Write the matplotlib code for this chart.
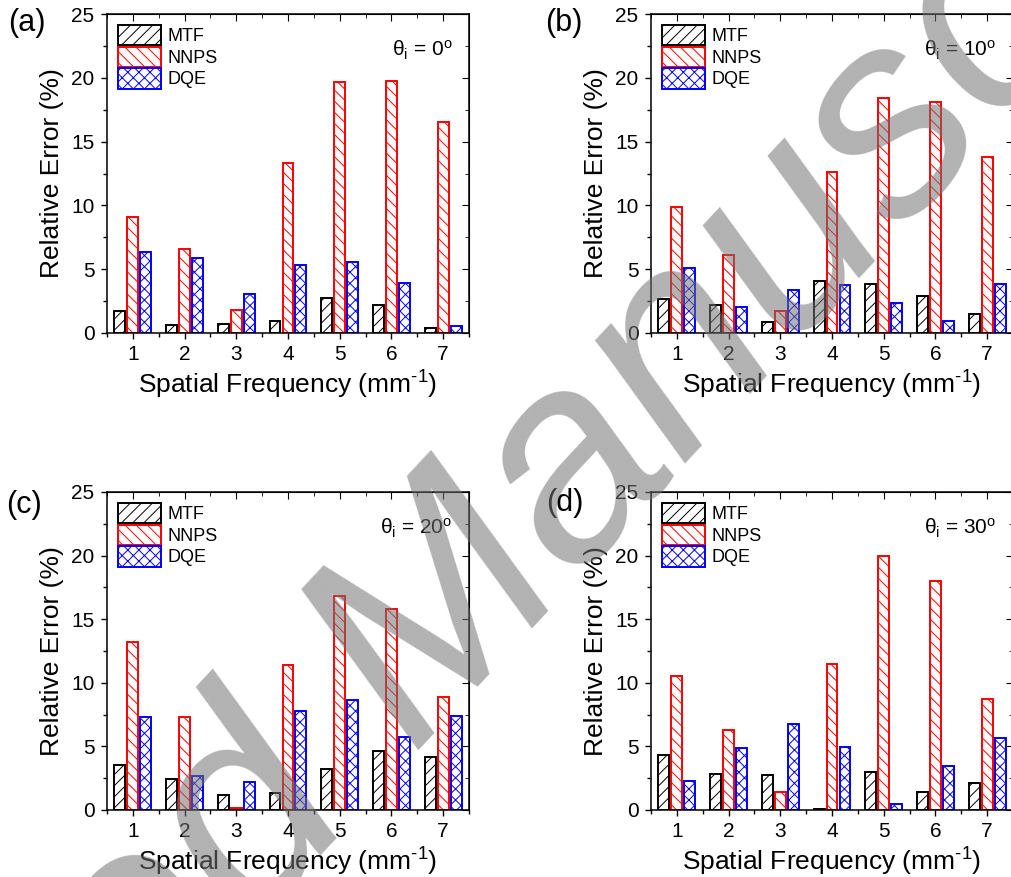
import matplotlib
matplotlib.use("Agg")
import matplotlib.pyplot as plt
import numpy as np

plt.rcParams["font.family"] = ["Liberation Sans", "DejaVu Sans"]
plt.rcParams["mathtext.fontset"] = "custom"
plt.rcParams["mathtext.rm"] = "Liberation Sans"
plt.rcParams["mathtext.it"] = "Liberation Sans:italic"
plt.rcParams["hatch.linewidth"] = 0.7

# -----------------------------
# Data (relative error, %)
# -----------------------------
freq = [1, 2, 3, 4, 5, 6, 7]

mtf_a = [1.7, 0.65, 0.68, 0.97, 2.75, 2.22, 0.42]
nnps_a = [9.1, 6.62, 1.83, 13.3, 19.66, 19.74, 16.57]
dqe_a = [6.33, 5.84, 3.04, 5.34, 5.6, 3.95, 0.52]

mtf_b = [2.7, 2.17, 0.86, 4.08, 3.87, 2.88, 1.47]
nnps_b = [9.9, 6.15, 1.7, 12.59, 18.4, 18.14, 13.82]
dqe_b = [5.13, 2.04, 3.35, 3.74, 2.38, 0.94, 3.87]

mtf_c = [3.53, 2.43, 1.2, 1.34, 3.19, 4.6, 4.19]
nnps_c = [13.19, 7.3, 0.13, 11.36, 16.83, 15.79, 8.87]
dqe_c = [7.28, 2.67, 2.23, 7.75, 8.66, 5.73, 7.41]

mtf_d = [4.32, 2.83, 2.75, 0.08, 3.01, 1.41, 2.15]
nnps_d = [10.55, 6.28, 1.44, 11.47, 19.97, 17.98, 8.72]
dqe_d = [2.3, 4.9, 6.8, 4.97, 0.45, 3.46, 5.63]

panels = [
    ("(a)", "0", mtf_a, nnps_a, dqe_a),
    ("(b)", "10", mtf_b, nnps_b, dqe_b),
    ("(c)", "20", mtf_c, nnps_c, dqe_c),
    ("(d)", "30", mtf_d, nnps_d, dqe_d),
]

# axes rectangles in figure fractions
rects = [
    [0.1058, 0.6203, 0.3581, 0.3637],
    [0.6439, 0.6203, 0.3581, 0.3637],
    [0.1058, 0.0764, 0.3581, 0.3626],
    [0.6439, 0.0764, 0.3581, 0.3626],
]
label_pos = [(0.008, 0.974), (0.539, 0.974), (0.006, 0.424), (0.540, 0.426)]

# -----------------------------
# Plot
# -----------------------------
fig = plt.figure(figsize=(10.11, 8.77), dpi=100)

x = np.array(freq)
w = 0.21
for (tag, ang, mtf, nnps, dqe), rect, lp in zip(panels, rects, label_pos):
    ax = fig.add_axes(rect)
    ax.bar(x - 0.25, mtf, w, facecolor="none", edgecolor="black",
           hatch="///", linewidth=1.4, label="MTF")
    ax.bar(x, nnps, w, facecolor="none", edgecolor="red",
           hatch="\\\\\\", linewidth=1.4, label="NNPS")
    ax.bar(x + 0.25, dqe, w, facecolor="none", edgecolor="blue",
           hatch="xxx", linewidth=1.4, label="DQE")

    ax.set_xlim(0.5, 7.5)
    ax.set_ylim(0, 25)
    ax.set_xticks(freq)
    ax.set_xticks(np.arange(0.5, 8, 1), minor=True)
    ax.set_yticks(np.arange(0, 26, 5))
    ax.set_yticks(np.arange(0, 25, 2.5), minor=True)
    ax.tick_params(which="major", direction="out", length=4, width=1,
                   labelsize=15, pad=5)
    ax.tick_params(which="minor", direction="out", length=3, width=1)
    for s in ax.spines.values():
        s.set_linewidth(1.1)

    # mirrored inward ticks on top and right
    top = ax.secondary_xaxis("top")
    top.set_xticks(freq)
    top.set_xticks(np.arange(0.5, 8, 1), minor=True)
    top.tick_params(which="major", direction="in", length=5, labeltop=False)
    top.tick_params(which="minor", direction="in", length=3)
    right = ax.secondary_yaxis("right")
    right.set_yticks(np.arange(0, 26, 5))
    right.set_yticks(np.arange(0, 25, 2.5), minor=True)
    right.tick_params(which="major", direction="in", length=5, labelright=False)
    right.tick_params(which="minor", direction="in", length=3)

    ax.set_xlabel("Spatial Frequency (mm$^{\\mathrm{\u2010}1}$)", fontsize=19, labelpad=3)
    ax.set_ylabel("Relative Error (%)", fontsize=19, labelpad=5)

    ax.legend(loc="upper left", frameon=False, fontsize=13,
              handlelength=2.4, handleheight=1.35, handletextpad=0.35,
              labelspacing=0.08, borderaxespad=0.2, borderpad=0.4)
    ax.text(0.955, 0.885, "θ$_\\mathrm{i}$ = " + ang + "$^\\mathrm{o}$",
            transform=ax.transAxes, ha="right", va="center", fontsize=15)

    fig.text(lp[0], lp[1], tag, fontsize=22, ha="left", va="center")

# watermark
fig.text(0.402, 0.236, "Accepted Manuscript", fontsize=205, style="italic",
         color="0.45", alpha=0.55, rotation=47, ha="center", va="center",
         rotation_mode="anchor", zorder=10)

fig.savefig("out.png", dpi=100)
